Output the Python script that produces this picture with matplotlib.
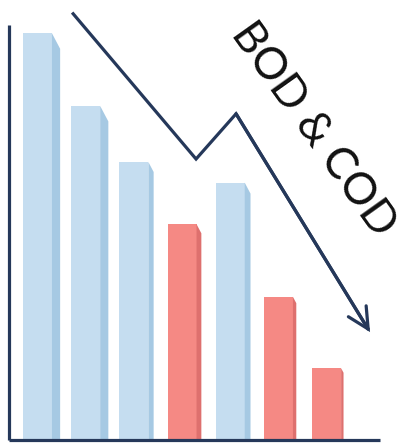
import matplotlib.pyplot as plt
from matplotlib.patches import Polygon

# Bar values (arbitrary units, axis runs 0-100)
values = [98.0, 80.5, 67.0, 52.0, 62.0, 34.5, 17.3]
highlight = [False, False, False, True, False, True, True]

# Downward trend path drawn over the bars (x in bar index, y in value units)
trend_x = [0.74, 3.29, 4.12, 6.90]
trend_y = [102.7, 67.7, 78.6, 26.0]

title = 'BOD & COD'

blue_front, blue_side = '#c5ddf0', '#a6c9e3'
red_front, red_side = '#f58984', '#de706e'
navy = '#25385a'

fig = plt.figure(figsize=(4.04, 4.43), dpi=100)
ax = fig.add_axes([0.0235, 0.0068, 0.917, 0.9368])

bar_w = 0.6
side_depth = [0.17, 0.17, 0.11, 0.1, 0.12, 0.07, 0.05]

for i, (v, hot) in enumerate(zip(values, highlight)):
    front = red_front if hot else blue_front
    side = red_side if hot else blue_side
    ax.bar(i, v, width=bar_w, color=front, edgecolor='none', zorder=2)
    # thin shaded side face for a 3d look
    x1 = i + bar_w / 2
    d = side_depth[i]
    ax.add_patch(Polygon([(x1, 0), (x1, v), (x1 + d, v - d * 22), (x1 + d, 0)],
                         closed=True, facecolor=side, edgecolor='none', zorder=2))

ax.set_xlim(-0.581, 7.106)
ax.set_ylim(0, 100)

for s in ['top', 'right']:
    ax.spines[s].set_visible(False)
for s in ['left', 'bottom']:
    ax.spines[s].set_color(navy)
    ax.spines[s].set_linewidth(2.3)
    ax.spines[s].set_capstyle('butt')
ax.set_xticks([])
ax.set_yticks([])
ax.patch.set_alpha(0)

# trend arrow
ax.plot(trend_x[:-1] + [trend_x[-1] - 0.05], trend_y[:-1] + [trend_y[-1] + 0.9],
        color=navy, linewidth=2.3, solid_joinstyle='miter', clip_on=False, zorder=3)
ax.annotate('', xy=(trend_x[-1], trend_y[-1]), xytext=(trend_x[-2], trend_y[-2]),
            arrowprops=dict(arrowstyle='->,head_length=1.5,head_width=0.75',
                            color=navy, linewidth=2.3, shrinkA=0, shrinkB=0,
                            joinstyle='miter'),
            annotation_clip=False, zorder=3)

fig.text(313 / 404, 1 - 129 / 443, title, rotation=-54.5, rotation_mode='anchor',
         ha='center', va='center', fontsize=32, family='Lato', color='#111111')

plt.savefig('out.png', dpi=100, facecolor='white')
plt.close()
